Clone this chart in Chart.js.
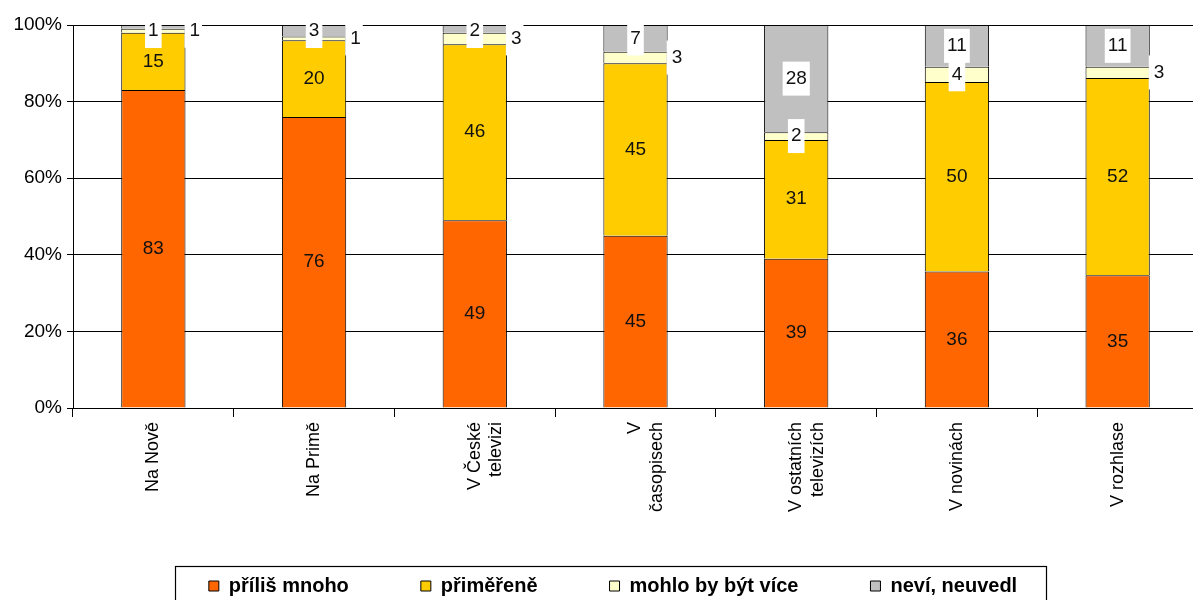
<!DOCTYPE html>
<html>
<head>
<meta charset="utf-8">
<script src="https://cdn.jsdelivr.net/npm/chart.js@4.4.1/dist/chart.umd.min.js"></script>
<style>
  html, body { margin: 0; padding: 0; background: #fff; overflow: hidden; }
  #wrap { width: 1198px; height: 600px; position: relative; }
</style>
</head>
<body>
<div id="wrap"><canvas id="c"></canvas></div>
<script>
// ---- data ----
const categories = ['Na Nově', 'Na Primě', ['V České', 'televizi'], ['V', 'časopisech'], ['V ostatních', 'televizích'], 'V novinách', 'V rozhlase'];
const seriesNames = ['příliš mnoho', 'přiměřeně', 'mohlo by být více', 'neví, neuvedl'];
const tooMuch     = [83, 76, 49, 45, 39, 36, 35];
const adequate    = [15, 20, 46, 45, 31, 50, 52];
const couldBeMore = [1, 1, 3, 3, 2, 4, 3];
const dontKnow    = [1, 3, 2, 7, 28, 11, 11];
const yTickValues = [0, 20, 40, 60, 80, 100];

// ---- styling ----
const seriesColors = ['#FF6600', '#FFCC00', '#FFFFCC', '#C0C0C0'];
const couldBeMorePlacement = ['right', 'right', 'right', 'right', 'center', 'center', 'right'];
const FONT = '"Liberation Sans", Arial, sans-serif';

const seriesValues = [tooMuch, adequate, couldBeMore, dontKnow];
const totals = categories.map((_, i) => seriesValues.reduce((s, arr) => s + arr[i], 0));

const datasets = seriesValues.map((vals, k) => ({
  label: seriesNames[k],
  data: vals.map((v, i) => v / totals[i] * 100),
  backgroundColor: seriesColors[k],
  borderColor: '#000',
  borderWidth: 1,
  categoryPercentage: 0.8,
  barPercentage: 0.5
}));

const segLabels = {
  id: 'segLabels',
  afterDatasetsDraw(chart) {
    const ctx = chart.ctx;
    const area = chart.chartArea;
    ctx.save();
    ctx.font = '19px ' + FONT;
    ctx.textBaseline = 'middle';
    const items = [];
    chart.data.datasets.forEach((ds, k) => {
      const meta = chart.getDatasetMeta(k);
      meta.data.forEach((bar, i) => {
        const txt = String(seriesValues[k][i]);
        const tw = ctx.measureText(txt).width;
        let cy = (bar.y + bar.base) / 2;
        if (k < 2) {
          items.push({ txt, x: bar.x, y: cy, align: 'center', box: null });
        } else if (k === 2 && couldBeMorePlacement[i] === 'right') {
          const right = bar.x + bar.width / 2;
          const tx = right + 4;
          items.push({ txt, x: tx, y: cy, align: 'left', box: [right - 1, cy - 17, tw + 7, 34] });
        } else {
          cy = Math.max(cy, area.top + 6);
          items.push({ txt, x: bar.x, y: cy, align: 'center', box: [bar.x - tw / 2 - 3, cy - 17, tw + 6, 34] });
        }
      });
    });
    ctx.fillStyle = '#fff';
    items.forEach(it => { if (it.box) ctx.fillRect(it.box[0], it.box[1], it.box[2], it.box[3]); });
    ctx.fillStyle = '#111';
    items.forEach(it => { ctx.textAlign = it.align; ctx.fillText(it.txt, it.x, it.y); });
    ctx.restore();
  }
};

// let the rotated x labels extend below the axis box, and shift the legend row right
const layoutTweaks = {
  id: 'layoutTweaks',
  afterLayout(chart) {
    chart.scales.x.bottom = chart.height;
    if (chart.legend) chart.legend.left += 28;
  }
};

const legendFrame = {
  id: 'legendFrame',
  afterDraw(chart) {
    const lg = chart.legend;
    if (!lg || !lg.legendHitBoxes || !lg.legendHitBoxes.length) return;
    const hb = lg.legendHitBoxes;
    const first = hb[0], last = hb[hb.length - 1];
    const left = first.left - 34;
    const right = last.left + last.width + 29;
    const top = 566.5;
    const ctx = chart.ctx;
    ctx.save();
    ctx.strokeStyle = '#000';
    ctx.lineWidth = 1.2;
    ctx.strokeRect(Math.round(left) + 0.5, top, Math.round(right - left), 60);
    ctx.restore();
  }
};

new Chart(document.getElementById('c'), {
  type: 'bar',
  data: { labels: categories, datasets },
  plugins: [segLabels, layoutTweaks, legendFrame],
  options: {
    responsive: true,
    maintainAspectRatio: false,
    animation: false,
    layout: { padding: { top: 25, left: 0, right: 0, bottom: -6 } },
    plugins: {
      tooltip: { enabled: false },
      legend: {
        position: 'bottom',
        labels: {
          color: '#000',
          boxWidth: 10,
          boxHeight: 10,
          padding: 72,
          font: { family: FONT, size: 20, weight: 'bold' }
        }
      }
    },
    scales: {
      x: {
        stacked: true,
        border: { display: true, color: '#000', width: 1 },
        grid: { display: true, drawOnChartArea: false, drawTicks: true, tickLength: 9, color: '#000', offset: true },
        ticks: {
          color: '#000',
          autoSkip: false,
          minRotation: 90,
          maxRotation: 90,
          padding: 5,
          font: { family: FONT, size: 18 }
        },
        afterFit(scale) { scale.height = 96; }
      },
      y: {
        stacked: true,
        min: 0,
        max: 100,
        border: { display: true, color: '#000', width: 1 },
        grid: { color: '#000', lineWidth: 1, drawTicks: true, tickLength: 6 },
        afterBuildTicks(scale) { scale.ticks = yTickValues.map(v => ({ value: v })); },
        ticks: {
          color: '#000',
          padding: 5,
          font: { family: FONT, size: 19 },
          callback: v => v + '%'
        },
        afterFit(scale) { scale.width = 73; }
      }
    }
  }
});
</script>
</body>
</html>
